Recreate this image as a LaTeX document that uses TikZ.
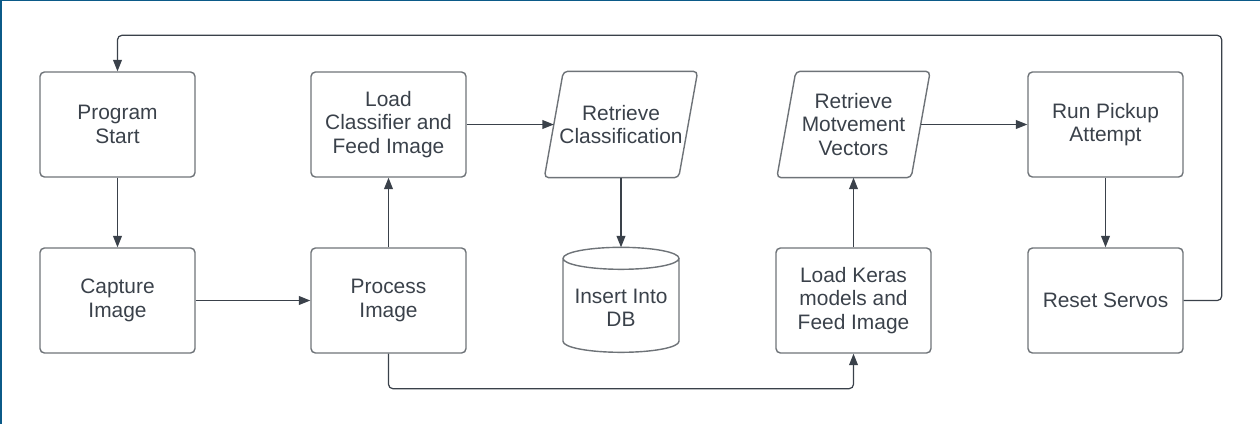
\documentclass[tikz,border=0pt]{standalone}
\usepackage{fontspec}
\setmainfont{Liberation Sans}
\usetikzlibrary{graphs,calc,arrows.meta}
\definecolor{frameblue}{HTML}{0B5A88}
\definecolor{boxgray}{HTML}{6E7378}
\definecolor{inkgray}{HTML}{3A414A}

\tikzset{
	stepbox/.style={draw=boxgray, line width=0.8pt, rounded corners=2.5pt, minimum width=3.1cm, minimum height=2.1cm, align=center, text=inkgray, font=\fontsize{11.9}{13.4}\selectfont},
	iobox/.style={stepbox, draw=none, minimum width=3.04cm},
	outline/.style={draw=boxgray, line width=0.8pt, rounded corners=2.5pt},
	flow/.style={draw=inkgray, line width=0.7pt, -{Triangle[length=6.5pt,width=5pt]}}
}

\begin{document}
\begin{tikzpicture}[x=0.02cm, y=0.02cm]
				\useasboundingbox (0,0) rectangle (1260,-424);
				\draw[frameblue, line width=2pt] (0,-424) -- (0,0);
				\draw[frameblue, line width=1.2pt] (0,0) -- (1260,0);
			
				\node[stepbox] (start) at (117.5,-124.5) {Program\\Start};
				\node[stepbox] (capture) at (117.5,-300.5) {Capture\\Image};
				\node[stepbox] (loadcls) at (388.5,-124.5) {Load\\Classifier and\\Feed Image};
				\node[stepbox] (process) at (388.5,-300.5) {Process\\Image};
				\node[iobox] (retcls) at (621,-124.5) {Retrieve\\Classification};
				\node[stepbox, draw=none, minimum width=2.32cm, minimum height=2.4cm] (db) at (621,-308) {Insert Into\\DB};
				\node[iobox] (retmov) at (853.5,-124.5) {Retrieve\\Motvement\\Vectors};
				\node[stepbox] (loadkeras) at (853.5,-300.5) {Load Keras\\models and\\Feed Image};
				\node[stepbox] (pickup) at (1105.5,-124.5) {Run Pickup\\Attempt};
				\node[stepbox] (reset) at (1105.5,-300.5) {Reset Servos};
				
				% slanted data boxes
				\draw[outline] ($(retcls.north west)+(19,0)$) -- (retcls.north east) -- ($(retcls.south east)+(-19,0)$) -- (retcls.south west) -- cycle;
				\draw[outline] ($(retmov.north west)+(19,0)$) -- (retmov.north east) -- ($(retmov.south east)+(-19,0)$) -- (retmov.south west) -- cycle;
				
				% database drum
				\draw[boxgray, line width=0.8pt] ($(db.north)+(0,-11)$) ellipse [x radius=1.16cm, y radius=0.22cm]
					($(db.north)+(-58,-11)$) -- ($(db.north)+(-58,-94)$) arc [start angle=180, end angle=360, x radius=1.16cm, y radius=0.22cm] -- ($(db.north)+(58,-11)$);
				
				\graph [use existing nodes, edges={flow}] {
					start -> capture -> process -> loadcls;
					retcls -> db;
					loadkeras -> retmov;
					pickup -> reset
				};
				
				\draw[flow] (loadcls) -- ($(retcls.west)+(9.5,0)$);
				\draw[flow] ($(retmov.east)+(-9.5,0)$) -- (pickup);
				\draw[flow, rounded corners=2.5pt] (process.south) -- ++(0,-35) -| (loadkeras.south);
				\draw[flow, rounded corners=2.5pt] (reset.east) -- ++(38,0) |- ($(start.north)+(0,36)$) -- (start.north);
			\end{tikzpicture}
\end{document}
